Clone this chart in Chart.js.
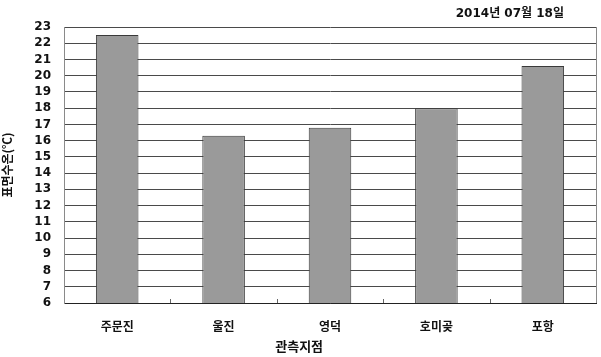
<!DOCTYPE html>
<html>
<head>
<meta charset="utf-8">
<script src="https://cdn.jsdelivr.net/npm/chart.js@4/dist/chart.umd.min.js"></script>
<style>
  html, body { margin: 0; padding: 0; background: #fff; }
  #wrap { width: 601px; height: 357px; }
</style>
</head>
<body>
<div id="wrap"><canvas id="myChart" width="601" height="357"></canvas></div>
<script>
var stations = ['주문진', '울진', '영덕', '호미곶', '포항'];
var seaTemp = [22.5, 16.3, 16.8, 18.0, 20.6];
var yMin = 6, yMax = 23;
var dateText = '2014년 07월 18일';
var xTitle = '관측지점';
var yTitle = '표면수온(℃)';

var fontFamily = "'Noto Sans CJK KR', 'Noto Sans', sans-serif";
var numFont = "'DejaVu Sans', 'Noto Sans CJK KR', sans-serif";

// extra bits: date label, x title, right frame line, small inner ticks
var extras = {
    id: 'extras',
    afterDraw: function(chart) {
        var ctx = chart.ctx;
        var area = chart.chartArea;
        var x = chart.scales.x;
        ctx.save();
        ctx.strokeStyle = '#8a8a8a';
        ctx.lineWidth = 1;
        ctx.beginPath();
        ctx.moveTo(area.right + 0.5, area.top);
        ctx.lineTo(area.right + 0.5, area.bottom);
        ctx.stroke();

        ctx.strokeStyle = '#666';
        for (var i = 1; i < stations.length; i++) {
            var px = Math.round((x.getPixelForTick(i - 1) + x.getPixelForTick(i)) / 2) + 0.5;
            ctx.beginPath();
            ctx.moveTo(px, area.bottom - 4);
            ctx.lineTo(px, area.bottom);
            ctx.stroke();
        }

        ctx.fillStyle = '#111';
        ctx.textBaseline = 'middle';
        ctx.font = 'bold 12px ' + numFont;
        ctx.textAlign = 'right';
        ctx.fillText(dateText, 564, 14);
        ctx.textAlign = 'center';
        ctx.font = 'bold 13px ' + fontFamily;
        ctx.fillText(xTitle, area.left + area.width * 0.442, 346);
        ctx.restore();
    }
};

var chart = new Chart(document.getElementById('myChart').getContext('2d'), {
    type: 'bar',
    data: {
        labels: stations,
        datasets: [{
            data: seaTemp,
            backgroundColor: '#9a9a9a',
            borderColor: '#3a3a3a',
            borderWidth: 1,
            borderSkipped: 'bottom',
            barPercentage: 0.4,
            categoryPercentage: 1
        }]
    },
    options: {
        responsive: false,
        animation: false,
        layout: { padding: { top: 27, right: 5, left: 0, bottom: 0 } },
        plugins: {
            legend: { display: false },
            tooltip: { enabled: false }
        },
        scales: {
            x: {
                grid: { display: false },
                border: { display: true, color: '#222', width: 1 },
                ticks: {
                    color: '#111',
                    padding: 8,
                    font: { family: fontFamily, size: 12, weight: 'bold' }
                },
                afterFit: function(scale) { scale.height = 54; }
            },
            y: {
                min: yMin,
                max: yMax,
                grid: { color: '#4a4a4a', lineWidth: 1, drawTicks: false },
                border: { display: true, color: '#8a8a8a', width: 1 },
                ticks: {
                    stepSize: 1,
                    autoSkip: false,
                    color: '#111',
                    padding: 13,
                    font: { family: numFont, size: 12, weight: 'bold' }
                },
                title: {
                    display: true,
                    text: yTitle,
                    color: '#111',
                    padding: { top: 0, bottom: 0 },
                    font: { family: fontFamily, size: 12, weight: 'bold' }
                },
                afterFit: function(scale) { scale.width = 64; }
            }
        }
    },
    plugins: [extras]
});
</script>
</body>
</html>
